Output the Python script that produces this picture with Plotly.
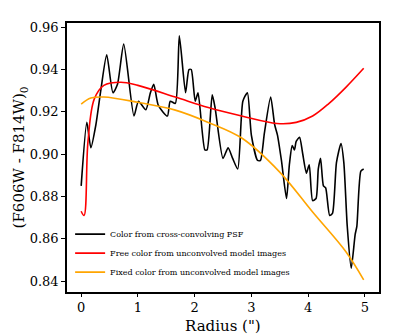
import plotly.graph_objects as go

# black curve: color from cross-convolving PSF
r_psf = [0.0, 0.1, 0.17, 0.26, 0.35, 0.45, 0.56, 0.64, 0.75, 0.93, 1.01, 1.14, 1.22, 1.28, 1.36,
         1.52, 1.57, 1.66, 1.73, 1.84, 1.9, 1.94, 2.01, 2.06, 2.18, 2.22, 2.31, 2.36, 2.5, 2.59,
         2.67, 2.76, 2.85, 2.93, 3.0, 3.11, 3.16, 3.23, 3.34, 3.41, 3.46, 3.53, 3.62, 3.67, 3.72,
         3.76, 3.79, 3.85, 3.9, 3.97, 4.02, 4.08, 4.14, 4.18, 4.22, 4.27, 4.31, 4.38, 4.43, 4.5,
         4.58, 4.63, 4.69, 4.76, 4.83, 4.86, 4.93, 4.98]
c_psf = [0.885, 0.915, 0.903, 0.914, 0.931, 0.947, 0.929, 0.933, 0.952, 0.918, 0.925, 0.921, 0.929, 0.933, 0.923,
         0.918, 0.925, 0.924, 0.956, 0.929, 0.940, 0.940, 0.925, 0.929, 0.902, 0.902, 0.928, 0.922, 0.898, 0.903,
         0.898, 0.893, 0.925, 0.929, 0.909, 0.897, 0.897, 0.910, 0.927, 0.914, 0.909, 0.897, 0.879, 0.895, 0.904,
         0.902, 0.906, 0.908, 0.901, 0.891, 0.895, 0.878, 0.879, 0.893, 0.898, 0.885, 0.884, 0.871, 0.872, 0.896,
         0.905, 0.896, 0.866, 0.846, 0.862, 0.866, 0.892, 0.893]

# red curve: free color
r_free = [0.0, 0.05, 0.12, 0.23, 0.4, 0.7, 1.0, 1.66, 2.24, 2.83, 3.45, 3.79, 4.08, 4.37, 4.67, 4.98]
c_free = [0.873, 0.871, 0.906, 0.926, 0.9325, 0.934, 0.9325, 0.927, 0.922, 0.918, 0.9145, 0.915, 0.918, 0.924, 0.9317, 0.9406]

# orange curve: fixed color
r_fix = [0.0, 0.17, 0.4, 1.0, 1.66, 2.24, 2.83, 3.5, 4.08, 4.67, 4.98]
c_fix = [0.9236, 0.9265, 0.927, 0.9245, 0.9208, 0.915, 0.9076, 0.8915, 0.8726, 0.8537, 0.8405]

fnt = "DejaVu Serif"

fig = go.Figure()
fig.add_trace(go.Scatter(x=r_psf, y=c_psf, mode="lines", name="Color from cross-convolving PSF",
                         line=dict(color="black", width=1.6, shape="spline", smoothing=0.6)))
fig.add_trace(go.Scatter(x=r_free, y=c_free, mode="lines", name="Free color from unconvolved model images",
                         line=dict(color="red", width=1.6, shape="spline")))
fig.add_trace(go.Scatter(x=r_fix, y=c_fix, mode="lines", name="Fixed color from unconvolved model images",
                         line=dict(color="orange", width=1.6, shape="spline")))

# axis titles as annotations so they sit where the reference has them
fig.add_annotation(text='Radius (")', xref="paper", yref="paper", x=0.5, y=-0.128,
                   xanchor="center", yanchor="middle", showarrow=False, font=dict(size=15))
fig.add_annotation(text="(F606W - F814W)<sub>0</sub>", xref="paper", yref="paper", x=-0.151, y=0.5,
                   xanchor="center", yanchor="middle", textangle=-90, showarrow=False, font=dict(size=15))

fig.update_layout(
    width=395, height=335, plot_bgcolor="white", paper_bgcolor="white",
    font=dict(family=fnt, color="black", size=13),
    margin=dict(l=67, r=16, t=23, b=43, autoexpand=False),
    xaxis=dict(showline=True, linecolor="#000000", linewidth=1.5, mirror=True, showgrid=False, zeroline=False,
               ticks="outside", ticklen=3, tickwidth=1, tickcolor="#000000", automargin=False,
               range=[-0.25, 5.25], tickvals=[0, 1, 2, 3, 4, 5]),
    yaxis=dict(showline=True, linecolor="#000000", linewidth=1.5, mirror=True, showgrid=False, zeroline=False,
               ticks="outside", ticklen=4, tickwidth=1, tickcolor="#000000", automargin=False,
               range=[0.8348, 0.962], tickvals=[0.84, 0.86, 0.88, 0.90, 0.92, 0.94, 0.96], tickformat=".2f"),
    legend=dict(x=0.01, y=0.02, xanchor="left", yanchor="bottom", bgcolor="rgba(0,0,0,0)",
                font=dict(size=8), tracegroupgap=0, itemwidth=30),
)
fig.write_html("out.html", config={"displayModeBar": False},
               post_script="document.body.style.margin='0px';")
